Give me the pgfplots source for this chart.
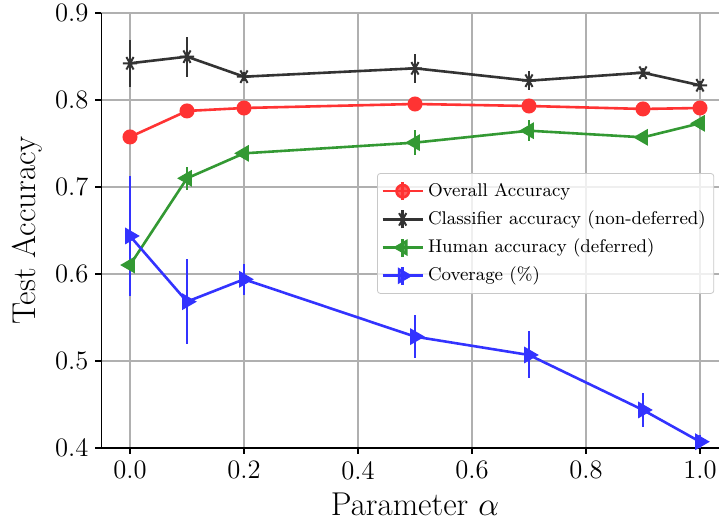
\RequirePackage{fix-cm}
\documentclass[border=0pt]{standalone}
\usepackage{fontspec}
\usepackage{pgfplots}
\pgfplotsset{compat=1.18}

\definecolor{gridgray}{HTML}{B0B0B0}
\definecolor{cred}{HTML}{FF3333}
\definecolor{cblack}{HTML}{333333}
\definecolor{cgreen}{HTML}{339933}
\definecolor{cblue}{HTML}{3333FF}

\pgfplotstableread{
x    y       e
0.0  0.7575  0.004
0.1  0.7874  0.003
0.2  0.7908  0.003
0.5  0.7954  0.003
0.7  0.7931  0.003
0.9  0.7897  0.003
1.0  0.7908  0.003
}\overall
\pgfplotstableread{
x    y       e
0.0  0.8422  0.027
0.1  0.8498  0.023
0.2  0.8268  0.005
0.5  0.8364  0.017
0.7  0.8222  0.011
0.9  0.8314  0.005
1.0  0.8169  0.005
}\classifier
\pgfplotstableread{
x    y       e
0.0  0.6103  0.017
0.1  0.7100  0.013
0.2  0.7387  0.006
0.5  0.7510  0.014
0.7  0.7647  0.012
0.9  0.7571  0.003
1.0  0.7732  0.006
}\human
\pgfplotstableread{
x    y       e
0.0  0.6437  0.069
0.1  0.5682  0.049
0.2  0.5939  0.018
0.5  0.5280  0.025
0.7  0.5069  0.027
0.9  0.4437  0.0195
1.0  0.4072  0.008
}\coverage

\begin{document}
\begin{tikzpicture}
\begin{axis}[
  scale only axis,
  width=313.5pt, height=217.5pt,
  xmin=-0.05, xmax=1.05,
  ymin=0.4, ymax=0.9,
  xtick={0,0.2,0.4,0.6,0.8,1.0},
  ytick={0.4,0.5,0.6,0.7,0.8,0.9},
  axis x line*=bottom, axis y line*=left,
  axis line style={-, line width=0.8pt, black},
  tick align=outside,
  major tick length=3pt,
  tick style={black, line width=0.8pt},
  grid=major,
  grid style={gridgray, line width=0.7pt},
  ticklabel style={font=\fontsize{13.3}{13}\selectfont},
  /pgf/number format/.cd, fixed, fixed zerofill, precision=1, assume math mode=true,
  /pgfplots/.cd,
  xlabel={Parameter $\alpha$},
  ylabel={Test Accuracy},
  label style={font=\fontsize{16.5}{18}\selectfont},
  xlabel style={at={([yshift=-34pt]axis description cs:0.5,0)}, anchor=base},
  ylabel style={at={([xshift=-32.75pt]axis description cs:0,0.5)}, anchor=base},
  legend style={at={(axis description cs:0.4394,0.632)}, anchor=north west,
    draw=gridgray!70, rounded corners=1.5pt, fill=white, fill opacity=0.8, text opacity=1,
    font=\fontsize{9.2}{11}\selectfont, inner xsep=2pt, inner ysep=1.8pt,
    nodes={text height=7.3pt, text depth=2.4pt, inner ysep=2.2pt}},
  legend cell align=left,
  legend image code/.code={
    \draw[mark repeat=2, mark phase=2] plot coordinates {(0pt,0pt) (10pt,0pt) (20pt,0pt)};
    \draw (10pt,-4.5pt) -- (10pt,4.5pt);
  },
  every axis plot/.append style={line width=1.3pt},
  error bars/y dir=both, error bars/y explicit, error bars/error mark=none,
  error bars/error bar style={line width=1.3pt},
]
\addplot[cred, mark=*, mark size=3.1pt, mark options={solid}] table[x=x, y=y, y error=e] {\overall};
\addlegendentry{Overall Accuracy}
\addplot[cblack, mark=asterisk, mark size=3.6pt, mark options={solid, rotate=90, line width=1pt}] table[x=x, y=y, y error=e] {\classifier};
\addlegendentry{Classifier accuracy (non-deferred)}
\addplot[cgreen, mark=triangle*, mark size=3.6pt, mark options={solid, rotate=90}] table[x=x, y=y, y error=e] {\human};
\addlegendentry{Human accuracy (deferred)}
\addplot[cblue, mark=triangle*, mark size=3.6pt, mark options={solid, rotate=-90}] table[x=x, y=y, y error=e] {\coverage};
\addlegendentry{Coverage (\%)}
\end{axis}
\pgfresetboundingbox
\path[use as bounding box] (-50.75pt,-37.5pt) rectangle (308.75pt,224pt);
\end{tikzpicture}
\end{document}
